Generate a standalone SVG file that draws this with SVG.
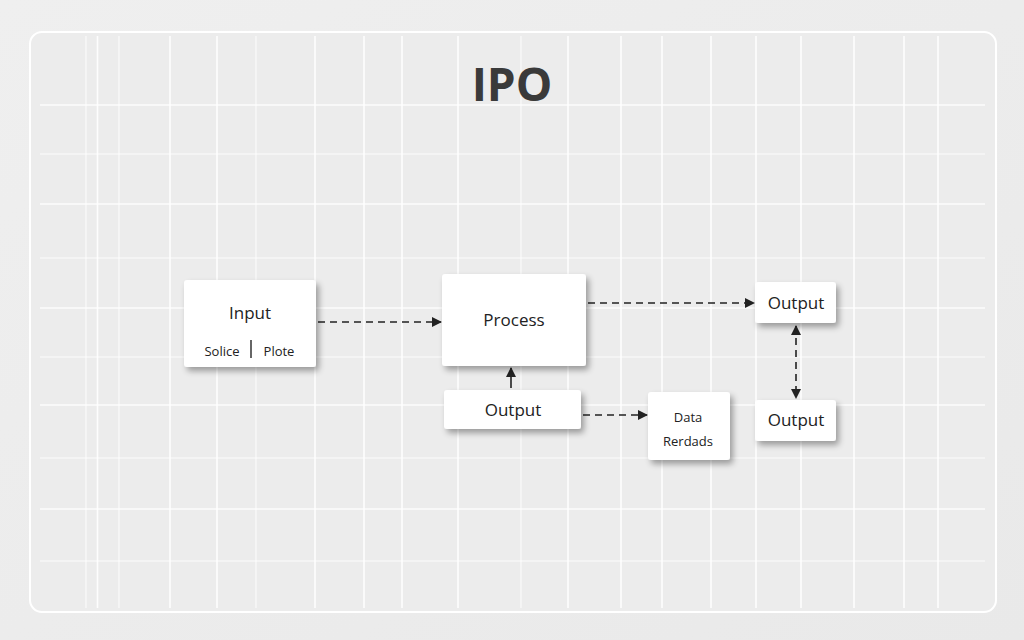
<svg xmlns="http://www.w3.org/2000/svg" width="1024" height="640" viewBox="0 0 1024 640">
<defs>
<linearGradient id="bg" x1="0" y1="0" x2="1" y2="1">
<stop offset="0" stop-color="#efefef"/>
<stop offset="1" stop-color="#e9e9e9"/>
</linearGradient>
<filter id="sh" x="-20%" y="-20%" width="150%" height="160%">
<feGaussianBlur in="SourceAlpha" stdDeviation="3"/>
<feOffset dx="3" dy="4" result="b"/>
<feComponentTransfer><feFuncA type="linear" slope="0.35"/></feComponentTransfer>
<feMerge><feMergeNode/><feMergeNode in="SourceGraphic"/></feMerge>
</filter>
<marker id="ah" viewBox="0 0 10 10" refX="9" refY="5" markerWidth="10" markerHeight="10" markerUnits="userSpaceOnUse" orient="auto-start-reverse">
<path d="M0,0 L10,5 L0,10 z" fill="#222"/>
</marker>
<style>
.grid line{stroke:#ffffff;stroke-width:1.6;opacity:0.9}
.grid .f{opacity:0.55}
.node rect{fill:#ffffff;filter:url(#sh)}
.t{font-family:"Open Sans","Noto Sans","Liberation Sans",sans-serif;fill:#222;text-anchor:middle}
.m{font-size:17px}
.s{font-size:13px}
.dash{stroke:#222;stroke-width:1.6;fill:none;stroke-dasharray:7 5;marker-end:url(#ah)}
</style>
</defs>
<rect width="1024" height="640" fill="url(#bg)"/>
<rect x="30" y="32" width="966" height="580" rx="12" fill="#ececec" stroke="#ffffff" stroke-width="2"/>
<g class="grid">
<line class="f" x1="86" y1="36" x2="86" y2="608"/>
<line x1="97.5" y1="36" x2="97.5" y2="608"/>
<line class="f" x1="119" y1="36" x2="119" y2="608"/>
<line x1="170" y1="36" x2="170" y2="608"/>
<line x1="217" y1="36" x2="217" y2="608"/>
<line class="f" x1="256" y1="36" x2="256" y2="608"/>
<line x1="315" y1="36" x2="315" y2="608"/>
<line x1="364" y1="36" x2="364" y2="608"/>
<line x1="402" y1="36" x2="402" y2="608"/>
<line x1="458" y1="36" x2="458" y2="608"/>
<line class="f" x1="521" y1="36" x2="521" y2="608"/>
<line x1="568" y1="36" x2="568" y2="608"/>
<line x1="621" y1="36" x2="621" y2="608"/>
<line x1="662" y1="36" x2="662" y2="608"/>
<line x1="711" y1="36" x2="711" y2="608"/>
<line x1="756" y1="36" x2="756" y2="608"/>
<line x1="801" y1="36" x2="801" y2="608"/>
<line x1="854" y1="36" x2="854" y2="608"/>
<line x1="904" y1="36" x2="904" y2="608"/>
<line x1="938" y1="36" x2="938" y2="608"/>
<line x1="40" y1="105" x2="985" y2="105"/>
<line class="f" x1="40" y1="154" x2="985" y2="154"/>
<line x1="40" y1="204" x2="985" y2="204"/>
<line class="f" x1="40" y1="258" x2="985" y2="258"/>
<line x1="40" y1="308" x2="985" y2="308"/>
<line class="f" x1="40" y1="357" x2="985" y2="357"/>
<line x1="40" y1="405" x2="985" y2="405"/>
<line class="f" x1="40" y1="458" x2="985" y2="458"/>
<line x1="40" y1="509" x2="985" y2="509"/>
<line class="f" x1="40" y1="561" x2="985" y2="561"/>
</g>
<text x="512" y="101" font-family="'Open Sans','Noto Sans','Liberation Sans',sans-serif" font-size="46" font-weight="bold" fill="#3a3a3a" text-anchor="middle">IPO</text>
<g id="connectors">
<line class="dash" x1="318" y1="322" x2="441" y2="322"/>
<line class="dash" x1="588" y1="303" x2="754" y2="303"/>
<line x1="511" y1="388" x2="511" y2="368" stroke="#222" stroke-width="1.6" marker-end="url(#ah)"/>
<line class="dash" x1="583" y1="415" x2="647" y2="415"/>
<line class="dash" x1="796" y1="326" x2="796" y2="398" marker-start="url(#ah)"/>
</g>
<g id="input" class="node">
<rect x="184" y="280" width="132" height="87" rx="3"/>
<text class="t m" x="250" y="319">Input</text>
<text class="t s" x="222" y="356">Solice</text>
<line x1="251" y1="340" x2="251" y2="358" stroke="#333" stroke-width="1.5"/>
<text class="t s" x="279" y="356">Plote</text>
</g>
<g id="process" class="node">
<rect x="442" y="274" width="144" height="92" rx="3"/>
<text class="t m" x="514" y="326">Process</text>
</g>
<g id="output-mid" class="node">
<rect x="444" y="390" width="137" height="39" rx="3"/>
<text class="t m" x="513" y="416">Output</text>
</g>
<g id="data" class="node">
<rect x="648" y="392" width="82" height="68" rx="3"/>
<text class="t s" x="688" y="422">Data</text>
<text class="t s" x="688" y="446">Rerdads</text>
</g>
<g id="output-top" class="node">
<rect x="755" y="282" width="81" height="41" rx="3"/>
<text class="t m" x="796" y="309">Output</text>
</g>
<g id="output-bottom" class="node">
<rect x="755" y="400" width="81" height="41" rx="3"/>
<text class="t m" x="796" y="426">Output</text>
</g>
</svg>
